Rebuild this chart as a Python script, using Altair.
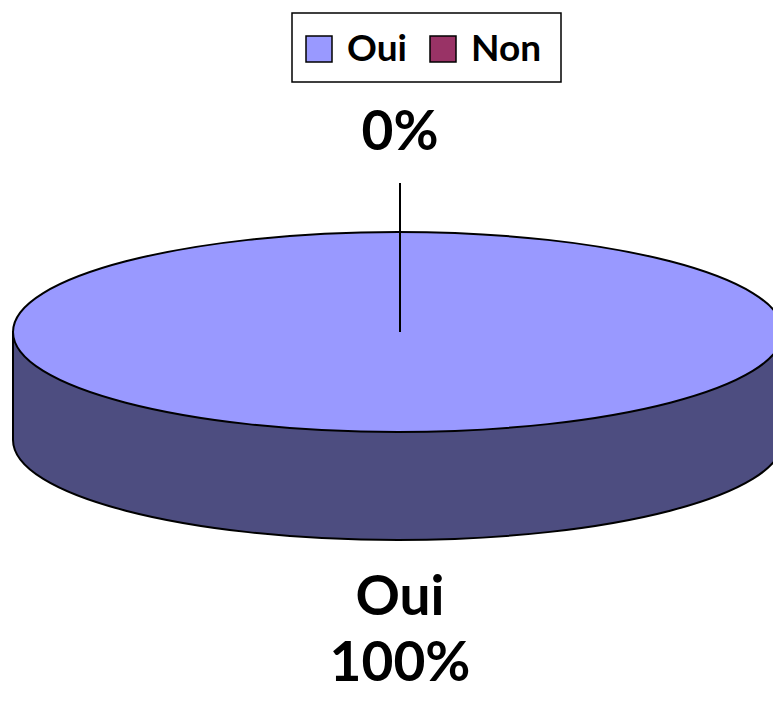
import altair as alt
import pandas as pd

# ---- data ----
categories = ["Oui", "Non"]
values = [100, 0]
colors = ["#9999FF", "#993366"]
side_color = "#4D4D80"

df = pd.DataFrame({"cat": categories, "value": values})

FONT = "Lato"

# ellipse geometry (normalized, scaled by sqrt(size)/2)
RX_PX = 385.0
R = 100.0 / RX_PX
D = 108.0 / RX_PX
TOP_PATH = f"M -1 0 A 1 {R:.4f} 0 1 0 1 0 A 1 {R:.4f} 0 1 0 -1 0 Z"
SIDE_PATH = (f"M -1 0 L -1 {D:.4f} A 1 {R:.4f} 0 0 0 1 {D:.4f} L 1 0 Z")
SIZE = (2 * RX_PX) ** 2

CX, CY = 390, 324

base = alt.Chart(df).transform_joinaggregate(
    total="sum(value)"
).transform_calculate(
    pct="format(datum.value / datum.total, '.0%')"
)

side = base.transform_filter("datum.value > 0").mark_point(
    filled=True, shape=SIDE_PATH, size=SIZE, fill=side_color,
    stroke="black", strokeWidth=2, opacity=1
).encode(x=alt.value(CX), y=alt.value(CY))

top = base.transform_filter("datum.value > 0").mark_point(
    filled=True, shape=TOP_PATH, size=SIZE,
    stroke="black", strokeWidth=2, opacity=1
).encode(
    x=alt.value(CX), y=alt.value(CY),
    fill=alt.Fill("cat:N", scale=alt.Scale(domain=categories, range=colors), legend=None),
)

leader = base.transform_filter("datum.value == 0").mark_rule(
    color="black", strokeWidth=2
).encode(x=alt.value(392), y=alt.value(175), y2=alt.value(324))

zero_label = base.transform_filter("datum.value == 0").mark_text(
    font=FONT, fontWeight="bold", fontSize=55, color="black",
    align="center", baseline="alphabetic"
).encode(x=alt.value(392), y=alt.value(142), text="pct:N")

main_label = base.transform_filter("datum.value > 0").transform_calculate(
    lbl="datum.cat + '\\n' + datum.pct"
).mark_text(
    font=FONT, fontWeight="bold", fontSize=55, color="black",
    align="center", baseline="alphabetic", lineBreak="\n", lineHeight=66
).encode(x=alt.value(392), y=alt.value(607), text="lbl:N")

# ---- legend ----
legend_box = base.transform_aggregate(n="count()").mark_rect(
    fill="white", stroke="black", strokeWidth=1.5
).encode(x=alt.value(284), x2=alt.value(553), y=alt.value(5), y2=alt.value(74))

xs = alt.X("cat:N", scale=alt.Scale(type="point", domain=categories,
                                     range=[311, 435], padding=0), axis=None)

legend_sq = base.mark_square(size=26 * 26, opacity=1, stroke="black",
                             strokeWidth=1.5).encode(
    x=xs, y=alt.value(41),
    fill=alt.Fill("cat:N", scale=alt.Scale(domain=categories, range=colors), legend=None),
)

legend_txt = base.mark_text(
    font=FONT, fontWeight="bold", fontSize=37, color="black",
    align="left", baseline="middle", dx=28, dy=1
).encode(x=xs, y=alt.value(41), text="cat:N")

chart = alt.layer(
    side, top, leader, zero_label, main_label, legend_box, legend_sq, legend_txt
).properties(
    width=765, height=686, padding=0, autosize=alt.AutoSizeParams(type="none")
).configure_view(stroke=None)

chart.save("out.html", embed_options={"renderer": "svg", "actions": False})
